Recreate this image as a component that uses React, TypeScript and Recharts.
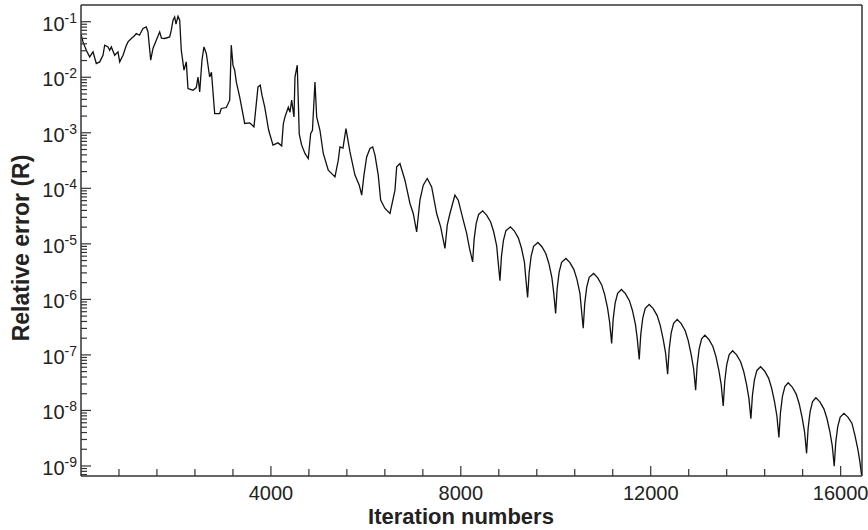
import { Line, LineChart, ReferenceLine, XAxis, YAxis } from "recharts";

// early, noisy part of the run (iteration, relative error)
const transientIter = [
  0, 42, 112, 183, 253, 322, 394, 463, 499, 569,
  604, 638, 710, 779, 815, 885, 948, 990, 1059, 1116,
  1165, 1232, 1306, 1375, 1411, 1468, 1516, 1586, 1657, 1695,
  1763, 1868, 1902, 1938, 1973, 2001, 2043, 2079, 2112, 2169,
  2218, 2253, 2359, 2428, 2464, 2500, 2548, 2590, 2639, 2710,
  2748, 2816, 2921, 2955, 3060, 3132, 3165, 3201, 3237, 3271,
  3342, 3448, 3553, 3643, 3728, 3776, 3812, 3869, 3953, 4044,
  4149, 4227, 4261, 4296, 4366, 4402, 4437, 4486, 4507, 4555,
  4597, 4648, 4717, 4787, 4838, 4875, 4928, 4964, 5033, 5103,
  5208, 5313, 5349, 5419, 5454, 5518, 5581, 5665, 5770, 5861,
  5912, 5960, 6017, 6086, 6143, 6192, 6261, 6312, 6402, 6508,
  6613, 6649, 6718, 6823, 6929, 6998, 7070, 7139, 7209, 7293,
  7386, 7491, 7575, 7666, 7714, 7771, 7876, 7946, 8051, 8123,
  8182, 8249,
];
const transientErr = [
  0.0596, 0.0433, 0.0307, 0.0232, 0.0286, 0.0177, 0.0189, 0.0249, 0.0378, 0.0352,
  0.0307, 0.0352, 0.0249, 0.0286, 0.0189, 0.0249, 0.0362, 0.0433, 0.0499, 0.0548,
  0.0614, 0.0571, 0.0755, 0.0806, 0.0655, 0.0203, 0.033, 0.0465, 0.0655, 0.0505,
  0.0499, 0.0532, 0.0703, 0.1064, 0.122, 0.0902, 0.1256, 0.1064, 0.0307, 0.0134,
  0.0189, 0.00627, 0.00585, 0.00653, 0.0101, 0.00545, 0.0203, 0.0352, 0.0268, 0.0101,
  0.0123, 0.00222, 0.00222, 0.00274, 0.00285, 0.00386, 0.0378, 0.0165, 0.0134, 0.00824,
  0.00443, 0.00147, 0.00151, 0.00128, 0.0067, 0.00719, 0.00475, 0.00292, 0.00111, 0.000598,
  0.000658, 0.000581, 0.00143, 0.00193, 0.00289, 0.00235, 0.00386, 0.00193, 0.0101, 0.0165,
  0.000944, 0.000598, 0.000424, 0.000344, 0.00097, 0.00111, 0.00824, 0.00193, 0.00111, 0.000424,
  0.000212, 0.000173, 0.000161, 0.000321, 0.000557, 0.000528, 0.00119, 0.000453, 0.000173, 0.000114,
  7.53e-5, 0.000173, 0.000368, 0.000521, 0.000557, 0.000395, 0.000173, 6.12e-5, 4.34e-5, 3.52e-5,
  9.27e-5, 0.000243, 0.00028, 0.00014, 5.33e-5, 3.52e-5, 1.64e-5, 6.12e-5, 0.000114, 0.00015,
  0.000106, 3.52e-5, 2.02e-5, 8.26e-6, 2.17e-5, 3.52e-5, 7.53e-5, 6.12e-5, 2.67e-5, 1.54e-5,
  8.37e-6, 4.74e-6,
];

// regular decaying arches, one row per arch
const decayIter = [
  8281, 8323, 8375, 8460, 8544, 8628, 8692, 8755, 8782, 8803, 8824,
  8856, 8898, 8950, 9045, 9129, 9213, 9277, 9340, 9365, 9386, 9407,
  9439, 9481, 9533, 9624, 9708, 9792, 9856, 9919, 9955, 9976, 9997,
  10029, 10071, 10123, 10214, 10298, 10382, 10446, 10509, 10536, 10557, 10578,
  10610, 10652, 10704, 10797, 10881, 10965, 11029, 11092, 11135, 11156, 11177,
  11209, 11251, 11303, 11383, 11467, 11551, 11615, 11678, 11716, 11737, 11758,
  11790, 11832, 11884, 11968, 12052, 12136, 12200, 12263, 12314, 12335, 12356,
  12388, 12430, 12482, 12558, 12642, 12726, 12790, 12853, 12904, 12925, 12946,
  12978, 13020, 13072, 13141, 13225, 13309, 13373, 13436, 13485, 13506, 13527,
  13559, 13601, 13653, 13725, 13809, 13893, 13957, 14020, 14068, 14089, 14110,
  14142, 14184, 14236, 14314, 14398, 14482, 14546, 14609, 14658, 14679, 14700,
  14732, 14774, 14826, 14896, 14980, 15064, 15128, 15191, 15241, 15262, 15283,
  15315, 15357, 15409, 15479, 15563, 15647, 15711, 15774, 15823, 15844, 15865,
  15897, 15939, 15991, 16069, 16153, 16237, 16300, 16363, 16405, 16440,
];
const decayErr = [
  1.23e-5, 2.32e-5, 3.39e-5, 3.93e-5, 3.3e-5, 2.47e-5, 1.65e-5, 9.25e-6, 5.19e-6, 3.36e-6, 2.18e-6,
  5.94e-6, 1.16e-5, 1.73e-5, 2.02e-5, 1.7e-5, 1.27e-5, 8.41e-6, 4.68e-6, 2.61e-6, 1.68e-6, 1.08e-6,
  3.03e-6, 6.0e-6, 9.04e-6, 1.06e-5, 8.87e-6, 6.62e-6, 4.39e-6, 2.43e-6, 1.35e-6, 8.69e-7, 5.58e-7,
  1.56e-6, 3.09e-6, 4.66e-6, 5.46e-6, 4.59e-6, 3.44e-6, 2.29e-6, 1.29e-6, 7.21e-7, 4.68e-7, 3.03e-7,
  8.41e-7, 1.66e-6, 2.5e-6, 2.93e-6, 2.46e-6, 1.84e-6, 1.23e-6, 6.87e-7, 3.85e-7, 2.49e-7, 1.61e-7,
  4.41e-7, 8.63e-7, 1.29e-6, 1.51e-6, 1.27e-6, 9.48e-7, 6.32e-7, 3.54e-7, 1.98e-7, 1.28e-7, 8.3e-8,
  2.32e-7, 4.59e-7, 6.92e-7, 8.11e-7, 6.82e-7, 5.11e-7, 3.4e-7, 1.91e-7, 1.07e-7, 6.95e-8, 4.51e-8,
  1.25e-7, 2.47e-7, 3.72e-7, 4.36e-7, 3.66e-7, 2.72e-7, 1.81e-7, 1.0e-7, 5.6e-8, 3.61e-8, 2.32e-8,
  6.49e-8, 1.29e-7, 1.94e-7, 2.27e-7, 1.9e-7, 1.42e-7, 9.4e-8, 5.21e-8, 2.89e-8, 1.86e-8, 1.2e-8,
  3.36e-8, 6.68e-8, 1.01e-7, 1.19e-7, 1.0e-7, 7.55e-8, 5.09e-8, 2.9e-8, 1.65e-8, 1.08e-8, 7.08e-9,
  1.87e-8, 3.56e-8, 5.25e-8, 6.11e-8, 5.13e-8, 3.83e-8, 2.54e-8, 1.41e-8, 7.87e-9, 5.08e-9, 3.27e-9,
  9.06e-9, 1.79e-8, 2.69e-8, 3.15e-8, 2.64e-8, 1.97e-8, 1.31e-8, 7.28e-9, 4.06e-9, 2.62e-9, 1.69e-9,
  4.75e-9, 9.51e-9, 1.44e-8, 1.69e-8, 1.43e-8, 1.07e-8, 7.23e-9, 4.1e-9, 2.33e-9, 1.52e-9, 9.95e-10,
  2.66e-9, 5.13e-9, 7.6e-9, 8.85e-9, 7.6e-9, 5.9e-9, 3.6e-9, 2.0e-9, 1.2e-9, 7.0e-10,
];

const xMajorTicks = [4000, 8000, 12000, 16000];
const xMinorTicks = [800, 1600, 2400, 3200, 4800, 5600, 6400, 7200, 8800, 9600, 10400, 11200, 12800, 13600, 14400, 15200];
const yDecades = [-1, -2, -3, -4, -5, -6, -7, -8, -9];
const yMinorSteps = [2, 3, 4, 5, 6, 7, 8, 9];

const X_DOMAIN = [0, 16450];
const Y_DOMAIN = [6.6e-10, 0.2];

const INK = "#222";
const AXIS = "#333";
const FONT = "Arial, 'Liberation Sans', Helvetica, sans-serif";

const allIter = [...transientIter, ...decayIter];
const allErr = [...transientErr, ...decayErr];
const data = allIter.map((iter, i) => ({ iter, err: allErr[i] }));

const yTicks: number[] = [];
yDecades.forEach((e) => {
  yTicks.push(Math.pow(10, e));
  yMinorSteps.forEach((m) => {
    const v = m * Math.pow(10, e - 1);
    if (v >= Y_DOMAIN[0] && v < Y_DOMAIN[1]) yTicks.push(v);
  });
});
yTicks.sort((a, b) => a - b);
const xTicks = [...xMinorTicks, ...xMajorTicks].sort((a, b) => a - b);

const YTick = ({ x, y, payload }: any) => {
  const e = Math.log10(payload.value);
  const major = Math.abs(e - Math.round(e)) < 1e-6;
  return (
    <g>
      <line x1={x} x2={x + (major ? 10 : 6)} y1={y} y2={y} stroke={AXIS} strokeWidth={1.2} />
      {major && (
        <text x={x - 4} y={y + 9} textAnchor="end" fontSize={20} fill={INK} fontFamily={FONT}>
          10
          <tspan dy={-8} fontSize={14}>
            {Math.round(e)}
          </tspan>
        </text>
      )}
    </g>
  );
};

const XTick = ({ x, y, payload }: any) => {
  const major = xMajorTicks.includes(payload.value);
  return (
    <g>
      <line x1={x} x2={x} y1={y} y2={y - (major ? 10 : 7)} stroke={AXIS} strokeWidth={1.2} />
      {major && (
        <text x={x} y={y + 24} textAnchor="middle" fontSize={20} fill={INK} fontFamily={FONT}>
          {payload.value}
        </text>
      )}
    </g>
  );
};

export default function App() {
  return (
    <div style={{ position: "absolute", left: 0, top: 0, width: 868, height: 530, background: "#fff" }}>
      <LineChart width={868} height={530} data={data} margin={{ top: 5, right: 6, bottom: 0, left: 0 }}>
        <XAxis
          dataKey="iter"
          type="number"
          domain={X_DOMAIN}
          allowDataOverflow
          ticks={xTicks}
          interval={0}
          height={54}
          tickSize={0}
          tickMargin={0}
          tickLine={false}
          axisLine={{ stroke: AXIS, strokeWidth: 1.5 }}
          tick={<XTick />}
        />
        <YAxis
          dataKey="err"
          type="number"
          scale="log"
          domain={Y_DOMAIN}
          allowDataOverflow
          ticks={yTicks}
          interval={0}
          width={81}
          tickSize={0}
          tickMargin={0}
          tickLine={false}
          axisLine={{ stroke: AXIS, strokeWidth: 1.5 }}
          tick={<YTick />}
        />
        <ReferenceLine y={Y_DOMAIN[1]} stroke={AXIS} strokeWidth={1.5} />
        <ReferenceLine x={X_DOMAIN[1]} stroke={AXIS} strokeWidth={1.5} />
        <Line
          type="linear"
          dataKey="err"
          stroke="#111"
          strokeWidth={1.3}
          dot={false}
          isAnimationActive={false}
        />
      </LineChart>
      <div
        style={{
          position: "absolute",
          left: 21,
          top: 248,
          transform: "translate(-50%, -50%) rotate(-90deg)",
          whiteSpace: "nowrap",
          fontFamily: FONT,
          fontWeight: "bold",
          fontSize: 23,
          lineHeight: "23px",
          color: INK,
        }}
      >
        Relative error (R)
      </div>
      <div
        style={{
          position: "absolute",
          left: 461,
          top: 506,
          transform: "translateX(-50%)",
          whiteSpace: "nowrap",
          fontFamily: FONT,
          fontWeight: "bold",
          fontSize: 22,
          lineHeight: "22px",
          color: INK,
        }}
      >
        Iteration numbers
      </div>
    </div>
  );
}
